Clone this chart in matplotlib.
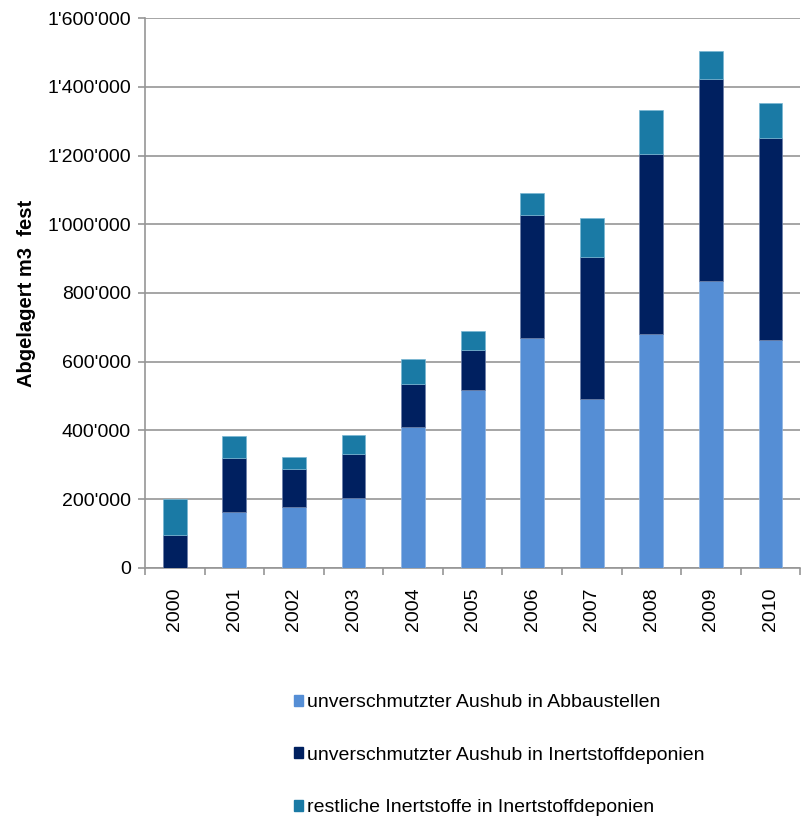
import numpy as np
import matplotlib.pyplot as plt
from matplotlib.patches import Patch
from matplotlib.ticker import FuncFormatter, FixedLocator

plt.rcParams['font.family'] = ['Liberation Sans', 'DejaVu Sans']

years = ['2000', '2001', '2002', '2003', '2004', '2005', '2006', '2007', '2008', '2009', '2010']
abbaustellen = [0, 163000, 177000, 204000, 410000, 518000, 669000, 492000, 681000, 835000, 663000]
inert_aushub = [96000, 157000, 111000, 128000, 125000, 116000, 358000, 413000, 523000, 588000, 588000]
restliche = [104000, 64000, 35000, 55000, 73000, 55000, 64000, 113000, 128000, 81000, 102000]

labels = ['unverschmutzter Aushub in Abbaustellen',
          'unverschmutzter Aushub in Inertstoffdeponien',
          'restliche Inertstoffe in Inertstoffdeponien']
colors = ['#558ED5', '#002060', '#1A7AA5']

fig = plt.figure(figsize=(8.01, 8.19), dpi=100)
ax = fig.add_axes([0.181, 0.3065, 0.818, 0.6715])

x = np.arange(len(years))
a = np.array(abbaustellen)
b = np.array(inert_aushub)
c = np.array(restliche)
w = 0.4
ax.bar(x, a, w, color=colors[0], edgecolor='#8FB4E3', linewidth=0.5, zorder=3)
ax.bar(x, b, w, bottom=a, color=colors[1], edgecolor='#6C7FA8', linewidth=0.5, zorder=3)
ax.bar(x, c, w, bottom=a + b, color=colors[2], edgecolor='#79B7D3', linewidth=0.5, zorder=3)

ax.set_xlim(-0.5, len(years) - 0.5)
ax.set_ylim(0, 1600000)
ax.set_yticks(np.arange(0, 1600001, 200000))
ax.yaxis.set_major_formatter(FuncFormatter(lambda v, p: f"{int(v):,}".replace(',', "'")))
ax.yaxis.grid(True, color='#969696', linewidth=1.2, zorder=0)

ax.set_xticks(x)
ax.set_xticklabels(years, rotation=90)
ax.xaxis.set_minor_locator(FixedLocator(np.arange(-0.5, len(years), 1.0)))
ax.tick_params(axis='x', which='major', length=0, pad=14, labelsize=14)
ax.tick_params(axis='x', which='minor', length=5, color='#969696', width=1.2)
ax.tick_params(axis='y', length=5, color='#969696', width=1.2, labelsize=14, pad=5)

for s in ['top', 'right']:
    ax.spines[s].set_visible(False)
ax.spines['left'].set_color('#969696')
ax.spines['bottom'].set_color('#969696')
ax.spines['left'].set_linewidth(1.2)
ax.spines['bottom'].set_linewidth(1.2)

ax.set_ylabel('Abgelagert m3  fest', fontsize=14.5, fontweight='bold', labelpad=8)

handles = [Patch(color=col) for col in colors]
fig.legend(handles, labels, loc='upper left', bbox_to_anchor=(0.357, 0.162),
           frameon=False, fontsize=14, handlelength=0.5, handleheight=0.5,
           handletextpad=0.2, labelspacing=1.83, borderaxespad=0)

fig.savefig('out.png', dpi=100)
